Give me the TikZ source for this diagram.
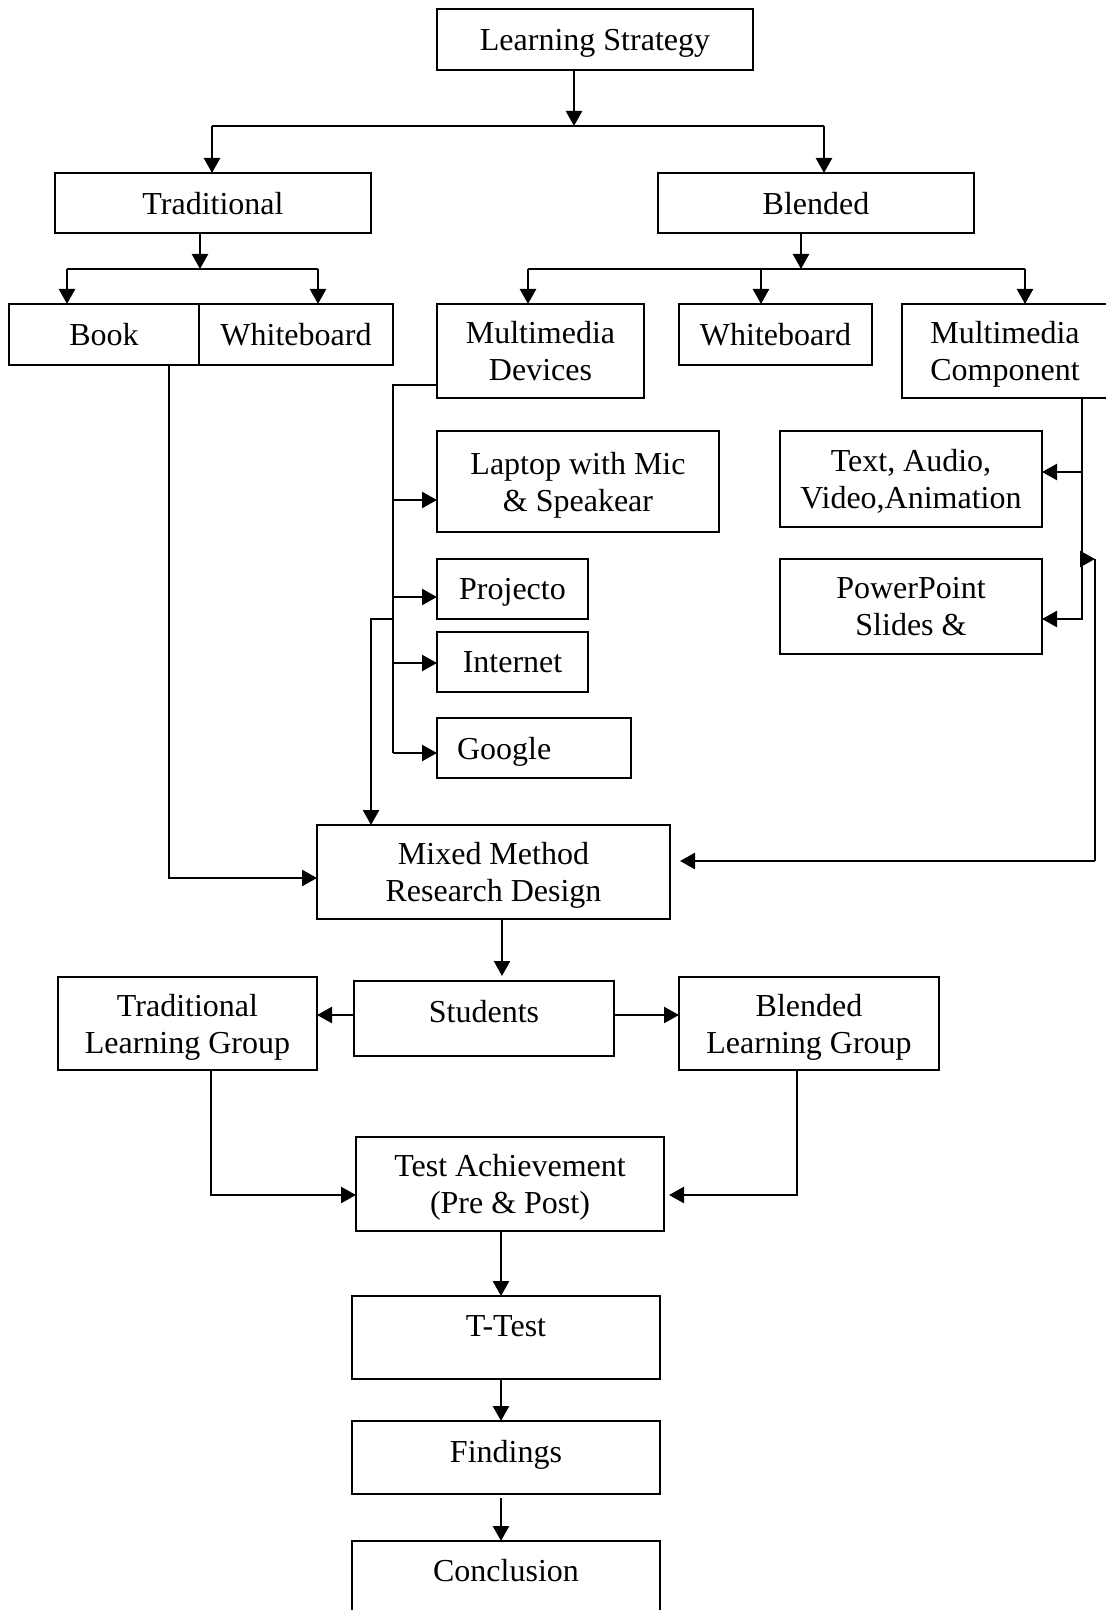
\documentclass[tikz,border=0pt]{standalone}
\usepackage{fontspec}
\setmainfont{Liberation Serif}
\usetikzlibrary{arrows.meta}
\begin{document}
\begin{tikzpicture}[x=0.5pt,y=-0.5pt,
  boxst/.style={draw, line width=1.1pt, inner sep=0pt, outer sep=0pt, align=center,
    text depth=0pt, font=\fontsize{16}{18.5}\selectfont},
  txt/.style={inner sep=0pt, align=center, font=\fontsize{16}{18.5}\selectfont},
  arr/.style={line width=1.2pt, -{Triangle[length=7.5pt,width=8pt]}},
  ln/.style={line width=1.2pt}]
\useasboundingbox (0,0) rectangle (1106,1610);
% boxes
\node[boxst, minimum width=158pt, minimum height=30.5pt] (ls) at (595,39.5) {Learning Strategy};
\node[boxst, minimum width=158pt, minimum height=30pt] (trad) at (213,203) {Traditional};
\node[boxst, minimum width=158pt, minimum height=30pt] (blend) at (816,203) {Blended};
\node[boxst, minimum width=95pt, minimum height=30.5pt] (book) at (104,334.5) {Book};
\node[boxst, minimum width=97pt, minimum height=30.5pt] (wb1) at (296,334.5) {Whiteboard};
\node[boxst, minimum width=103.5pt, minimum height=47pt] (mmd) at (540.5,351) {Multimedia\\Devices};
\node[boxst, minimum width=96.5pt, minimum height=30.5pt] (wb2) at (775.5,334.5) {Whiteboard};
\node[boxst, minimum width=103pt, minimum height=47pt] (mmc) at (1005,351) {Multimedia\\Component};
\node[boxst, minimum width=141pt, minimum height=50.5pt] (lap) at (578,481.5) {Laptop with Mic\\\& Speakear};
\node[boxst, minimum width=75.5pt, minimum height=30pt] (proj) at (512.5,589) {Projecto};
\node[boxst, minimum width=75.5pt, minimum height=30pt] (inet) at (512.5,662) {Internet};
\node[boxst, minimum width=97pt, minimum height=30pt, text width=77pt, inner xsep=10pt, align=left] (goog) at (534,748) {Google};
\node[boxst, minimum width=131pt, minimum height=48pt] (tav) at (911,479) {Text, Audio,\\Video,Animation};
\node[boxst, minimum width=131pt, minimum height=47.5pt] (ppt) at (911,606.5) {PowerPoint\\Slides \&};
\node[boxst, minimum width=176.5pt, minimum height=47pt] (mix) at (493.5,872) {Mixed Method\\Research Design};
\node[boxst, minimum width=130pt, minimum height=37.5pt] (stud) at (484,1018.5) {};
\node[txt] at ([yshift=3.5pt]stud.center) {Students};
\node[boxst, minimum width=129.5pt, minimum height=46.5pt] (tlg) at (187.5,1023.5) {Traditional\\Learning Group};
\node[boxst, minimum width=130pt, minimum height=46.5pt] (blg) at (809,1023.5) {Blended\\Learning Group};
\node[boxst, minimum width=154pt, minimum height=47pt] (test) at (510,1184) {Test Achievement\\(Pre \& Post)};
\node[boxst, minimum width=154pt, minimum height=41.5pt] (ttest) at (506,1337.5) {};
\node[txt] at ([yshift=5.75pt]ttest.center) {T-Test};
\node[boxst, minimum width=154pt, minimum height=36.5pt] (find) at (506,1457.5) {};
\node[txt] at ([yshift=1.25pt]find.center) {Findings};
\node[boxst, minimum width=154pt, minimum height=37pt] (conc) at (506,1578) {};
\node[txt] at ([yshift=3.5pt]conc.center) {Conclusion};
% top level
\coordinate (j1) at (574,126);
\coordinate (jL) at (212,126);
\coordinate (jR) at (824,126);
\draw[arr] (j1 |- ls.south) -- (j1);
\draw[ln] (jL) -- (jR);
\draw[arr] (jL) -- (jL |- trad.north);
\draw[arr] (jR) -- (jR |- blend.north);
% traditional
\coordinate (t1) at (200,269);
\coordinate (tL) at (67,269);
\coordinate (tR) at (318,269);
\draw[arr] (t1 |- trad.south) -- (t1);
\draw[ln] (tL) -- (tR);
\draw[arr] (tL) -- (tL |- book.north);
\draw[arr] (tR) -- (tR |- wb1.north);
% blended
\coordinate (b1) at (801,269);
\coordinate (bL) at (528,269);
\coordinate (bM) at (761,269);
\coordinate (bR) at (1025,269);
\draw[arr] (b1 |- blend.south) -- (b1);
\draw[ln] (bL) -- (bR);
\draw[arr] (bL) -- (bL |- mmd.north);
\draw[arr] (bM) -- (bM |- wb2.north);
\draw[arr] (bR) -- (bR |- mmc.north);
% multimedia devices
\coordinate (m0) at (393,385);
\coordinate (mLap) at (393,500);
\coordinate (mProj) at (393,597);
\coordinate (mNet) at (393,663);
\coordinate (mGoo) at (393,753);
\coordinate (mMix) at (393,619);
\coordinate (mMix2) at (371,619);
\draw[ln] (mmd.west |- m0) -- (m0) -- (mGoo);
\draw[arr] (mLap) -- (mLap -| lap.west);
\draw[arr] (mProj) -- (mProj -| proj.west);
\draw[arr] (mNet) -- (mNet -| inet.west);
\draw[arr] (mGoo) -- (mGoo -| goog.west);
\draw[arr] (mMix) -- (mMix2) -- (mMix2 |- mix.north);
% book to mixed
\coordinate (bk) at (169,878);
\draw[arr] (bk |- book.south) -- (bk) -- (bk -| mix.west);
% multimedia component
\coordinate (c0) at (1082,472);
\coordinate (c1) at (1082,619);
\coordinate (c2) at (1082,559);
\coordinate (c3) at (1095,559);
\coordinate (c4) at (1095,861);
\coordinate (mixR) at (680,861);
\draw[arr] (c0 |- mmc.south) -- (c0) -- (c0 -| tav.east);
\draw[arr] (c0) -- (c1) -- (c1 -| ppt.east);
\draw[ln] (c3) -- (c4);
\draw[arr] (c2) -- (c3);
\draw[arr] (c4) -- (mixR);
% mixed to students and groups
\coordinate (s0) at (502,976);
\coordinate (sy) at (0,1015);
\draw[arr] (s0 |- mix.south) -- (s0);
\draw[arr] (stud.west |- sy) -- (tlg.east |- sy);
\draw[arr] (stud.east |- sy) -- (blg.west |- sy);
% groups to test
\coordinate (g1) at (211,1195);
\coordinate (g2) at (797,1195);
\draw[arr] (g1 |- tlg.south) -- (g1) -- (g1 -| test.west);
\draw[arr] (g2 |- blg.south) -- (g2) -- ([xshift=2.5pt]g2 -| test.east);
% chain
\coordinate (v) at (501,0);
\coordinate (f0) at (501,1498);
\draw[arr] (v |- test.south) -- (v |- ttest.north);
\draw[arr] (v |- ttest.south) -- (v |- find.north);
\draw[arr] (f0) -- (f0 |- conc.north);
\end{tikzpicture}
\end{document}
